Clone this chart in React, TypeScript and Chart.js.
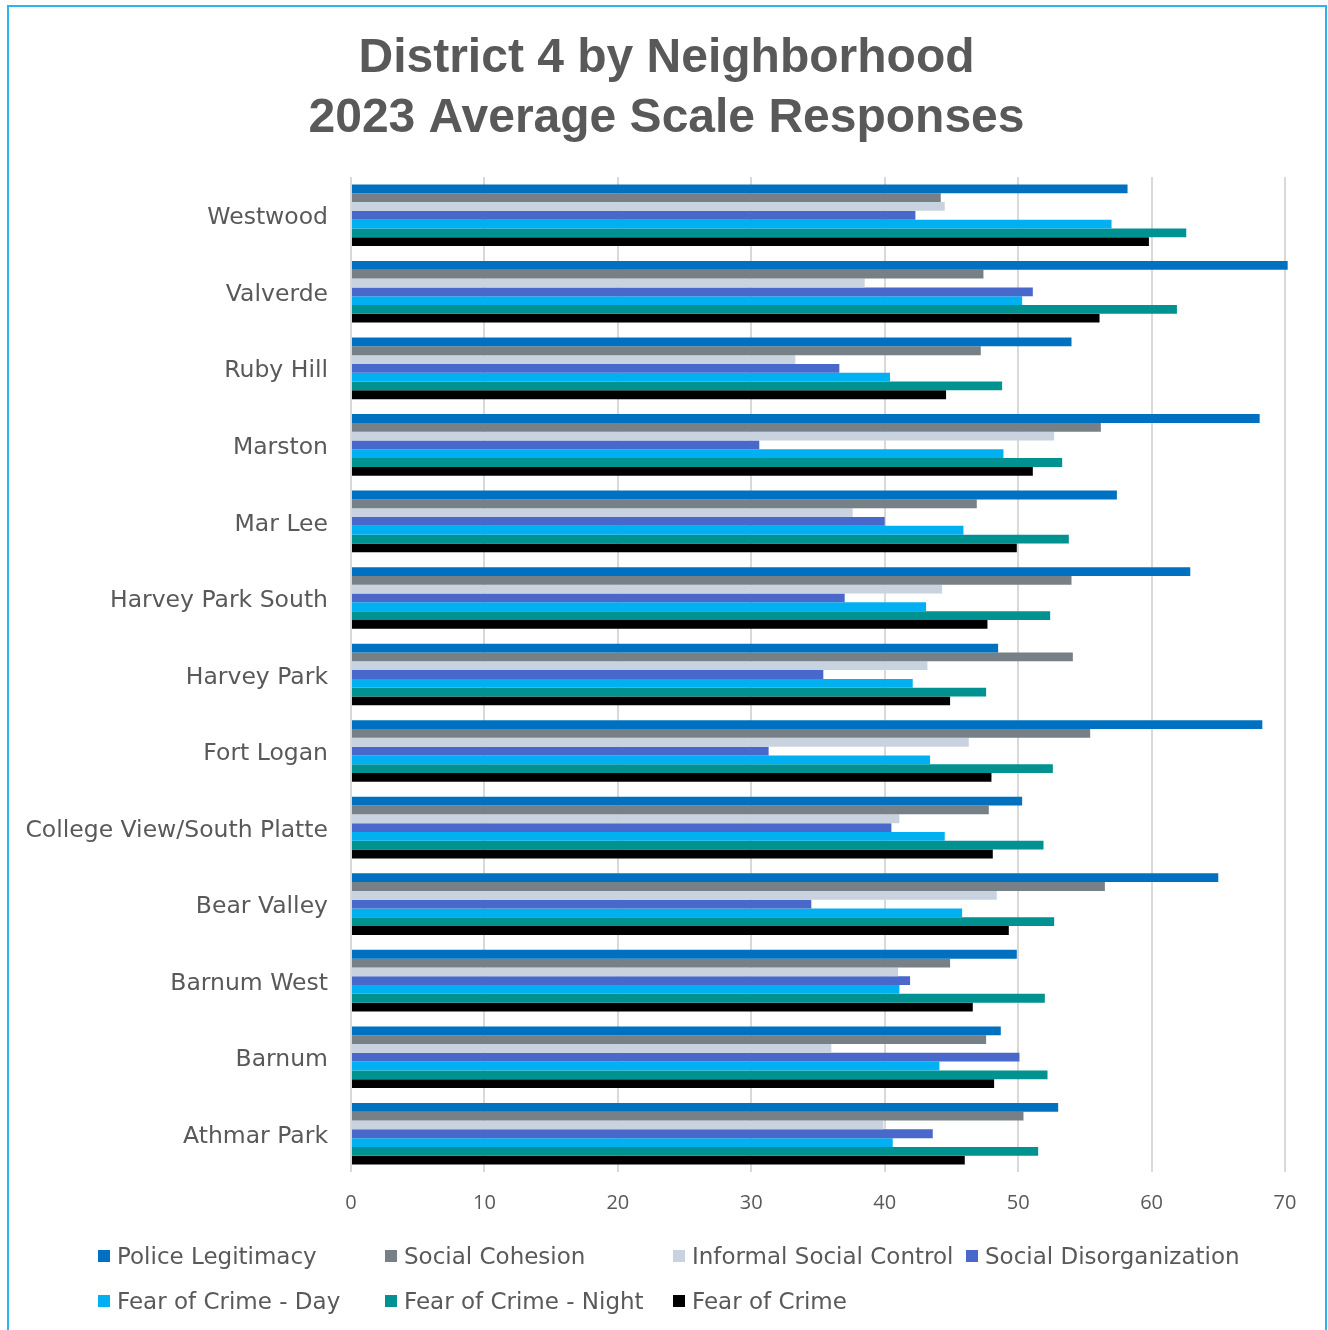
import React, { useEffect, useRef } from "react";
import { Chart, registerables } from "chart.js";

Chart.register(...registerables);

const titleLines = ["District 4 by Neighborhood", "2023 Average Scale Responses"];

const categories = [
  "Westwood",
  "Valverde",
  "Ruby Hill",
  "Marston",
  "Mar Lee",
  "Harvey Park South",
  "Harvey Park",
  "Fort Logan",
  "College View/South Platte",
  "Bear Valley",
  "Barnum West",
  "Barnum",
  "Athmar Park",
];

const seriesNames = [
  "Police Legitimacy",
  "Social Cohesion",
  "Informal Social Control",
  "Social Disorganization",
  "Fear of Crime - Day",
  "Fear of Crime - Night",
  "Fear of Crime",
];

const policeLegitimacy = [58.2, 70.2, 54.0, 68.1, 57.4, 62.9, 48.5, 68.3, 50.3, 65.0, 49.9, 48.7, 53.0];
const socialCohesion = [44.2, 47.4, 47.2, 56.2, 46.9, 54.0, 54.1, 55.4, 47.8, 56.5, 44.9, 47.6, 50.4];
const informalSocialControl = [44.5, 38.5, 33.3, 52.7, 37.6, 44.3, 43.2, 46.3, 41.1, 48.4, 41.0, 36.0, 39.9];
const socialDisorganization = [42.3, 51.1, 36.6, 30.6, 40.0, 37.0, 35.4, 31.3, 40.5, 34.5, 41.9, 50.1, 43.6];
const fearDay = [57.0, 50.3, 40.4, 48.9, 45.9, 43.1, 42.1, 43.4, 44.5, 45.8, 41.1, 44.1, 40.6];
const fearNight = [62.6, 61.9, 48.8, 53.3, 53.8, 52.4, 47.6, 52.6, 51.9, 52.7, 52.0, 52.2, 51.5];
const fearOfCrime = [59.8, 56.1, 44.6, 51.1, 49.9, 47.7, 44.9, 48.0, 48.1, 49.3, 46.6, 48.2, 46.0];

const seriesValues = [
  policeLegitimacy,
  socialCohesion,
  informalSocialControl,
  socialDisorganization,
  fearDay,
  fearNight,
  fearOfCrime,
];

const seriesColors = ["#0070C0", "#768086", "#C8D3DF", "#4868CC", "#00B0F0", "#009291", "#000000"];

const xMin = 0;
const xMax = 70;
const xStep = 10;

const TEXT = "#595959";

export default function App() {
  const canvasRef = useRef<HTMLCanvasElement | null>(null);

  useEffect(() => {
    const canvas = canvasRef.current;
    if (!canvas) return;
    const chart = new Chart(canvas, {
      type: "bar",
      data: {
        labels: categories,
        datasets: seriesNames.map((name, i) => ({
          label: name,
          data: seriesValues[i],
          backgroundColor: seriesColors[i],
          borderWidth: 0,
          categoryPercentage: 0.805,
          barPercentage: 1.0,
          clip: false as any,
        })),
      },
      options: {
        indexAxis: "y",
        responsive: false,
        animation: false,
        maintainAspectRatio: false,
        layout: { padding: { top: 0, left: 24, right: 19, bottom: 108 } },
        plugins: {
          legend: { display: false },
          tooltip: { enabled: false },
          title: {
            display: true,
            text: titleLines,
            color: TEXT,
            font: { family: "'Liberation Sans', Arial, sans-serif", size: 48, weight: "bold", lineHeight: 1.25 },
            padding: { top: 29, bottom: 28 },
          },
        },
        scales: {
          x: {
            type: "linear",
            min: xMin,
            max: xMax,
            border: { display: false },
            grid: { color: "#D9D9D9", lineWidth: 2, drawTicks: false },
            ticks: {
              stepSize: xStep,
              color: TEXT,
              padding: 19,
              font: { family: "'Open Sans', sans-serif", size: 20 },
            },
            afterFit: (scale: any) => {
              scale.height = 50;
            },
          },
          y: {
            type: "category",
            border: { display: false },
            grid: { display: false, drawTicks: false },
            ticks: {
              color: TEXT,
              padding: 23,
              labelOffset: 3,
              autoSkip: false,
              font: { family: "'DejaVu Sans', sans-serif", size: 23.5 },
            },
            afterFit: (scale: any) => {
              scale.width = 327;
            },
          },
          yRightSpace: {
            type: "linear",
            axis: "y",
            position: "right",
            display: true,
            border: { display: false },
            grid: { display: false, drawTicks: false },
            ticks: { display: false },
            afterFit: (scale: any) => {
              scale.width = 24;
            },
          },
        },
      },
    });
    return () => chart.destroy();
  }, []);

  return (
    <div style={{ position: "absolute", left: 0, top: 0, width: 1328, height: 1330, background: "#fff", overflow: "hidden" }}>
      <canvas ref={canvasRef} width={1328} height={1330} style={{ position: "absolute", left: 0, top: 0, width: 1328, height: 1330 }} />
      <div
        style={{
          position: "absolute",
          left: 98,
          top: 1236,
          display: "grid",
          gridTemplateColumns: "287px 288px 293px auto",
          rowGap: 5,
          fontFamily: "'DejaVu Sans', sans-serif",
          fontSize: 23,
          color: TEXT,
          whiteSpace: "nowrap",
        }}
      >
        {seriesNames.map((name, i) => (
          <div key={name} style={{ display: "flex", alignItems: "center", height: 40 }}>
            <span style={{ display: "inline-block", width: 12, height: 12, background: seriesColors[i], marginRight: 7, flex: "none" }} />
            <span>{name}</span>
          </div>
        ))}
      </div>
      <div
        style={{
          position: "absolute",
          left: 7,
          top: 5,
          width: 1320,
          height: 1345,
          border: "2px solid #2BB5E8",
          boxSizing: "border-box",
          pointerEvents: "none",
        }}
      />
    </div>
  );
}
